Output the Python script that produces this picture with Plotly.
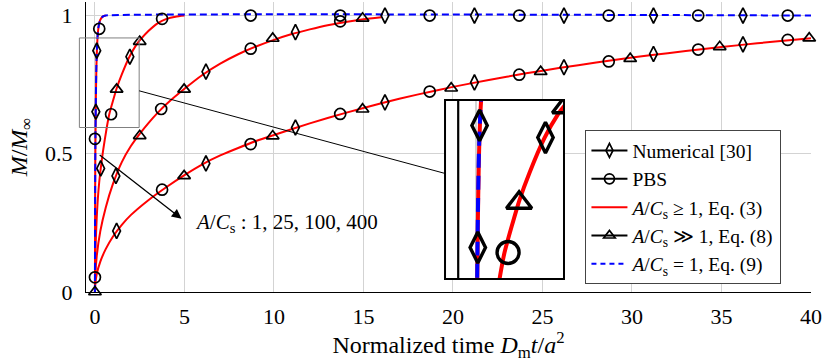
import plotly.graph_objects as go

# ---------------- data ----------------
# red analytic curves, Eq. (3)
RED_1_X = [0, 0.005, 0.02, 0.05, 0.08, 0.11, 0.15, 0.2, 0.3, 0.45, 0.6]
RED_1_Y = [0, 0.22, 0.48, 0.69, 0.81, 0.875, 0.925, 0.958, 0.985, 0.997, 1.0]

RED_25_X = [0, 0.02, 0.05, 0.1, 0.2, 0.3, 0.45, 0.66, 0.8, 1.0, 1.22, 1.5, 1.92, 2.3, 2.5, 3.0, 3.5, 4.0, 4.5, 5.0]
RED_25_Y = [0, 0.12, 0.19, 0.27, 0.37, 0.435, 0.51, 0.595, 0.643, 0.69, 0.738, 0.787, 0.85, 0.893, 0.91, 0.945, 0.972, 0.988, 0.996, 1.0]

RED_100_X = [0, 0.02, 0.1, 0.3, 0.6, 1, 1.5, 2, 2.5, 3, 3.5, 4, 5, 6, 7, 8, 9, 10, 11, 12, 13, 14, 15, 16]
RED_100_Y = [0, 0.06, 0.13, 0.22, 0.305, 0.39, 0.47, 0.527, 0.572, 0.612, 0.648, 0.68, 0.735, 0.785, 0.826, 0.86,
             0.888, 0.912, 0.933, 0.95, 0.965, 0.977, 0.987, 0.994]

RED_400_X = [0, 0.02, 0.1, 0.3, 0.6, 1, 1.5, 2, 3, 4, 5, 6, 7, 8, 9, 10, 12, 14, 16, 18, 20, 22, 24, 26, 28, 30,
             32, 34, 36, 38, 40]
RED_400_Y = [0, 0.03, 0.065, 0.11, 0.155, 0.2, 0.243, 0.278, 0.333, 0.38, 0.423, 0.462, 0.494, 0.521, 0.546, 0.568,
             0.61, 0.648, 0.683, 0.714, 0.742, 0.767, 0.79, 0.811, 0.83, 0.848, 0.864, 0.879, 0.893, 0.906, 0.918]

# blue dashed, Eq. (9)
BLUE_X = [0, 0.005, 0.02, 0.05, 0.08, 0.11, 0.15, 0.2, 0.3, 0.45, 0.6, 40]
BLUE_Y = [0, 0.25, 0.5, 0.7, 0.82, 0.88, 0.93, 0.96, 0.985, 0.997, 1.0, 1.0]

# Numerical [30] (diamonds)
NUM_X = [0.05, 0.1, 16.2, 21.2, 26.2, 31.2, 36.2,
         0.32, 1.95,
         1.17, 6.2, 11.2,
         1.21, 6.2, 11.2, 16.2, 21.2, 26.2, 31.2, 36.2]
NUM_Y = [0.652, 0.873, 1.0, 1.0, 1.0, 1.0, 1.0,
         0.447, 0.851,
         0.42, 0.797, 0.94,
         0.221, 0.465, 0.595, 0.686, 0.758, 0.813, 0.861, 0.896]

# PBS (circles)
PBS_X = [0.0, 0.0, 0.24, 8.7, 13.7, 18.7, 23.7, 28.7, 33.7, 38.7,
         0.9, 3.75,
         3.7, 8.7, 13.7,
         3.75, 8.7, 13.7, 18.7, 23.7, 28.7, 33.7, 38.7]
PBS_Y = [0.053, 0.554, 0.952, 1.0, 1.0, 1.0, 1.0, 1.0, 1.0, 1.0,
         0.643, 0.988,
         0.662, 0.88, 0.979,
         0.37, 0.535, 0.644, 0.725, 0.786, 0.834, 0.877, 0.912]

# Eq. (8) (triangles)
EQ8_X = [0.0,
         1.21, 2.5,
         2.5, 4.98, 9.93, 14.95,
         4.98, 9.93, 14.95, 19.9, 24.9, 29.9, 34.9, 39.9]
EQ8_Y = [0.0,
         0.733, 0.906,
         0.565, 0.733, 0.917, 0.99,
         0.42, 0.564, 0.661, 0.737, 0.797, 0.844, 0.887, 0.918]

X_TICKS = [0, 5, 10, 15, 20, 25, 30, 35, 40]
Y_TICKS = [0, 0.5, 1]
Y_TICK_TEXT = ["0", "0.5", "1"]

LEGEND_NAMES = ["Numerical [30]", "PBS",
                "<i>A</i>/<i>C</i><sub>s</sub> ≥ 1, Eq. (3)",
                "<i>A</i>/<i>C</i><sub>s</sub> ≫ 1, Eq. (8)",
                "<i>A</i>/<i>C</i><sub>s</sub> = 1, Eq. (9)"]
ARROW_LABEL = "<i>A</i>/<i>C</i><sub>s</sub> : 1, 25, 100, 400"

# ---------------- layout constants ----------------
W, H = 831, 362
ML, MR, MT, MB = 86, 20, 2, 70
XR = [-0.5, 40.0]
YR = [0.0, 1.049]
ZOOM_X = [-0.87, 2.47]      # spied region (data)
ZOOM_Y = [0.595, 0.919]
INSET_DX = [0.4952, 0.6593]  # inset position (paper)
INSET_DY = [0.0448, 0.662]

FONT = "Liberation Serif, DejaVu Serif, serif"
RED = "#ff0000"
BLUE = "#0000ff"
GRID = "#d3d3d3"


def xp(v):
    return (v - XR[0]) / (XR[1] - XR[0])


def yp(v):
    return (v - YR[0]) / (YR[1] - YR[0])


fig = go.Figure()


def add_set(xa, ya, s):
    for cx, cy in [(RED_1_X, RED_1_Y), (RED_25_X, RED_25_Y), (RED_100_X, RED_100_Y), (RED_400_X, RED_400_Y)]:
        fig.add_trace(go.Scatter(x=cx, y=cy, mode="lines", xaxis=xa, yaxis=ya, showlegend=False,
                                 line=dict(color=RED, width=2 * s, shape="spline", smoothing=0.6),
                                 hoverinfo="skip"))
    fig.add_trace(go.Scatter(x=BLUE_X, y=BLUE_Y, mode="lines", xaxis=xa, yaxis=ya, showlegend=False,
                             line=dict(color=BLUE, width=2 * s, dash="%dpx,%dpx" % (7 * s, 4 * s),
                                       shape="spline", smoothing=0.6),
                             hoverinfo="skip"))
    for mx, my, sym, sz in [(NUM_X, NUM_Y, "diamond-tall-open", 11),
                            (PBS_X, PBS_Y, "circle-open", 11),
                            (EQ8_X, EQ8_Y, "triangle-up-open", 11)]:
        fig.add_trace(go.Scatter(x=mx, y=my, mode="markers", xaxis=xa, yaxis=ya, showlegend=False,
                                 cliponaxis=(xa != "x"),
                                 marker=dict(symbol=sym, size=sz * s, color="black",
                                             line=dict(width=1.7 * s, color="black")),
                                 hoverinfo="skip"))


add_set("x", "y", 1)
add_set("x2", "y2", 2)

# legend entries
leg_specs = [
    (LEGEND_NAMES[0], "lines+markers", "black", "solid", "diamond-tall-open"),
    (LEGEND_NAMES[1], "lines+markers", "black", "solid", "circle-open"),
    (LEGEND_NAMES[2], "lines", RED, "solid", None),
    (LEGEND_NAMES[3], "lines+markers", "black", "solid", "triangle-up-open"),
    (LEGEND_NAMES[4], "lines", BLUE, "5px,4px", None),
]
for name, mode, col, dash, sym in leg_specs:
    kw = dict(x=[None], y=[None], mode=mode, name=name, line=dict(color=col, width=2, dash=dash))
    if sym:
        kw["marker"] = dict(symbol=sym, size=10, color="black", line=dict(width=1.7, color="black"))
    fig.add_trace(go.Scatter(**kw))

shapes = []
# spy rectangle in the main plot
shapes.append(dict(type="rect", xref="paper", yref="paper",
                   x0=xp(ZOOM_X[0]), x1=xp(ZOOM_X[1]), y0=yp(ZOOM_Y[0]), y1=yp(ZOOM_Y[1]),
                   line=dict(color="#808080", width=1), layer="above"))
# connector between the centres, clipped to the two boxes
sx, sy = (xp(ZOOM_X[0]) + xp(ZOOM_X[1])) / 2, (yp(ZOOM_Y[0]) + yp(ZOOM_Y[1])) / 2
ix, iy = (INSET_DX[0] + INSET_DX[1]) / 2, (INSET_DY[0] + INSET_DY[1]) / 2
t0 = (xp(ZOOM_X[1]) - sx) / (ix - sx)
t1 = (INSET_DX[0] - sx) / (ix - sx)
shapes.append(dict(type="line", xref="paper", yref="paper",
                   x0=sx + t0 * (ix - sx), y0=sy + t0 * (iy - sy),
                   x1=sx + t1 * (ix - sx), y1=sy + t1 * (iy - sy),
                   line=dict(color="black", width=1)))
# magnified main-axis line inside the inset
shapes.append(dict(type="line", xref="x2", yref="paper", x0=XR[0], x1=XR[0],
                   y0=INSET_DY[0], y1=INSET_DY[1], line=dict(color="black", width=2.2)))
# inset frame
shapes.append(dict(type="rect", xref="paper", yref="paper",
                   x0=INSET_DX[0], x1=INSET_DX[1], y0=INSET_DY[0], y1=INSET_DY[1],
                   line=dict(color="black", width=2)))

annotations = [
    dict(x=4.84, y=0.265, ax=0.18, ay=0.5, xref="x", yref="y", axref="x", ayref="y",
         text="", showarrow=True, arrowhead=2, arrowsize=1.5, arrowwidth=1.3, arrowcolor="black"),
    dict(x=5.45, y=0.25, xref="x", yref="y", text=ARROW_LABEL, showarrow=False,
         xanchor="left", yanchor="middle", font=dict(family=FONT, size=21, color="black")),
]

fig.update_layout(
    width=W, height=H, margin=dict(l=ML, r=MR, t=MT, b=MB),
    paper_bgcolor="white", plot_bgcolor="white",
    font=dict(family=FONT, size=21, color="black"),
    shapes=shapes, annotations=annotations,
    xaxis=dict(range=XR, tickvals=X_TICKS, showgrid=True, gridcolor=GRID, gridwidth=1, zeroline=False,
               showline=True, linecolor="black", linewidth=1.2, ticks="", ticklabelstandoff=4,
               tickfont=dict(family=FONT, size=22),
               title=dict(text="Normalized time <i>D</i><sub>m</sub><i>t</i>/<i>a</i><sup>2</sup>",
                          font=dict(family=FONT, size=24), standoff=0)),
    yaxis=dict(range=YR, tickvals=Y_TICKS, ticktext=Y_TICK_TEXT, showgrid=True, gridcolor=GRID, gridwidth=1,
               zeroline=False, showline=True, linecolor="black", linewidth=1.2, ticks="", ticklabelstandoff=8,
               tickfont=dict(family=FONT, size=22),
               title=dict(text="<i>M</i>/<i>M</i><sub>∞</sub>", font=dict(family=FONT, size=24), standoff=10)),
    xaxis2=dict(domain=INSET_DX, range=ZOOM_X, anchor="y2", tickvals=[0], showticklabels=False, ticks="",
                showgrid=True, gridcolor=GRID, gridwidth=2, zeroline=False, showline=False),
    yaxis2=dict(domain=INSET_DY, range=ZOOM_Y, anchor="x2", showticklabels=False, ticks="",
                showgrid=False, zeroline=False, showline=False),
    legend=dict(x=xp(27.4), y=yp(0.585), xanchor="left", yanchor="top",
                bgcolor="white", bordercolor="#444", borderwidth=1,
                font=dict(family=FONT, size=19.5), itemwidth=36, tracegroupgap=0),
    showlegend=True,
)

fig.write_html("out.html", post_script="document.body.style.margin='0';",
               config={"displayModeBar": False})
